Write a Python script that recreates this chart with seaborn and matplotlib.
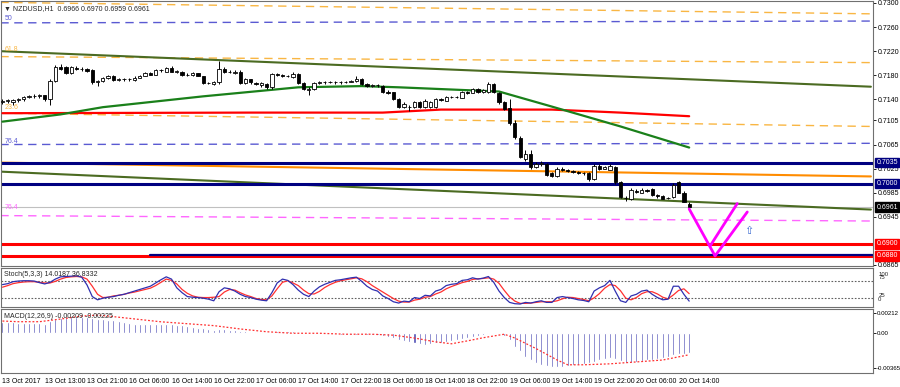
import numpy as np
import pandas as pd
import matplotlib
matplotlib.use("Agg")
import matplotlib.pyplot as plt
import seaborn as sns

# NZDUSD H1 candles, 13 Oct 05:00 .. 20 Oct 15:00
opens = [0.7135, 0.7137, 0.7136, 0.7139, 0.7140, 0.7144, 0.7145, 0.7146, 0.7147, 0.7140,
         0.7171, 0.7193, 0.7194, 0.7184, 0.7192, 0.7191, 0.7190, 0.7189, 0.7168, 0.7170,
         0.7175, 0.7178, 0.7172, 0.7173, 0.7173, 0.7172, 0.7176, 0.7179, 0.7184, 0.7181,
         0.7189, 0.7186, 0.7192, 0.7186, 0.7186, 0.7180, 0.7180, 0.7183, 0.7178, 0.7167,
         0.7166, 0.7168, 0.7190, 0.7185, 0.7183, 0.7186, 0.7167, 0.7173, 0.7167, 0.7163,
         0.7166, 0.7160, 0.7182, 0.7180, 0.7179, 0.7177, 0.7182, 0.7167, 0.7155, 0.7158,
         0.7167, 0.7168, 0.7168, 0.7169, 0.7168, 0.7168, 0.7169, 0.7170, 0.7174, 0.7166,
         0.7162, 0.7163, 0.7162, 0.7153, 0.7152, 0.7141, 0.7128, 0.7128, 0.7127, 0.7135,
         0.7127, 0.7128, 0.7127, 0.7140, 0.7138, 0.7144, 0.7144, 0.7143, 0.7152, 0.7151,
         0.7157, 0.7152, 0.7152, 0.7165, 0.7150, 0.7135, 0.7126, 0.7100, 0.7076, 0.7041,
         0.7050, 0.7028, 0.7033, 0.7032, 0.7017, 0.7013, 0.7024, 0.7023, 0.7021, 0.7020,
         0.7018, 0.7018, 0.7008, 0.7030, 0.7025, 0.7023, 0.7028, 0.7003, 0.6977, 0.6975,
         0.6988, 0.6985, 0.6989, 0.6991, 0.6981, 0.6980, 0.6976, 0.6978, 0.7002, 0.6985,
         0.6966]
highs = [0.7140, 0.7141, 0.7141, 0.7143, 0.7146, 0.7148, 0.7149, 0.7149, 0.7148, 0.7173,
         0.7197, 0.7198, 0.7196, 0.7195, 0.7195, 0.7193, 0.7192, 0.7191, 0.7172, 0.7177,
         0.7180, 0.7180, 0.7175, 0.7175, 0.7175, 0.7178, 0.7181, 0.7186, 0.7186, 0.7191,
         0.7190, 0.7194, 0.7195, 0.7189, 0.7187, 0.7183, 0.7185, 0.7184, 0.7179, 0.7169,
         0.7171, 0.7204, 0.7193, 0.7188, 0.7188, 0.7188, 0.7175, 0.7174, 0.7168, 0.7169,
         0.7167, 0.7184, 0.7184, 0.7182, 0.7181, 0.7185, 0.7183, 0.7169, 0.7160, 0.7169,
         0.7170, 0.7170, 0.7171, 0.7170, 0.7170, 0.7171, 0.7172, 0.7179, 0.7175, 0.7167,
         0.7165, 0.7165, 0.7163, 0.7155, 0.7153, 0.7143, 0.7135, 0.7130, 0.7138, 0.7138,
         0.7140, 0.7138, 0.7142, 0.7142, 0.7146, 0.7146, 0.7146, 0.7154, 0.7154, 0.7159,
         0.7159, 0.7157, 0.7169, 0.7167, 0.7152, 0.7137, 0.7140, 0.7106, 0.7079, 0.7056,
         0.7056, 0.7036, 0.7037, 0.7034, 0.7020, 0.7027, 0.7027, 0.7025, 0.7023, 0.7021,
         0.7020, 0.7019, 0.7033, 0.7032, 0.7029, 0.7032, 0.7030, 0.7005, 0.6980, 0.6992,
         0.6991, 0.6992, 0.6991, 0.6993, 0.6983, 0.6981, 0.6978, 0.7001, 0.7004, 0.6987,
         0.6970]
lows = [0.7132, 0.7134, 0.7130, 0.7136, 0.7138, 0.7142, 0.7143, 0.7143, 0.7138, 0.7131,
        0.7169, 0.7189, 0.7182, 0.7182, 0.7189, 0.7187, 0.7185, 0.7166, 0.7162, 0.7168,
        0.7174, 0.7171, 0.7170, 0.7170, 0.7171, 0.7171, 0.7175, 0.7178, 0.7180, 0.7180,
        0.7186, 0.7185, 0.7185, 0.7184, 0.7179, 0.7179, 0.7179, 0.7178, 0.7165, 0.7165,
        0.7164, 0.7166, 0.7184, 0.7184, 0.7182, 0.7165, 0.7165, 0.7166, 0.7163, 0.7161,
        0.7158, 0.7158, 0.7178, 0.7177, 0.7177, 0.7176, 0.7166, 0.7155, 0.7148, 0.7156,
        0.7166, 0.7166, 0.7167, 0.7166, 0.7166, 0.7167, 0.7168, 0.7169, 0.7164, 0.7160,
        0.7161, 0.7161, 0.7151, 0.7149, 0.7139, 0.7126, 0.7126, 0.7121, 0.7125, 0.7126,
        0.7125, 0.7126, 0.7125, 0.7137, 0.7137, 0.7142, 0.7142, 0.7142, 0.7149, 0.7150,
        0.7151, 0.7151, 0.7150, 0.7151, 0.7133, 0.7122, 0.7097, 0.7074, 0.7042, 0.7038,
        0.7025, 0.7026, 0.7029, 0.7013, 0.7011, 0.7011, 0.7021, 0.7019, 0.7018, 0.7016,
        0.7015, 0.7005, 0.7006, 0.7022, 0.7024, 0.7022, 0.7000, 0.6976, 0.6972, 0.6973,
        0.6984, 0.6984, 0.6986, 0.6980, 0.6977, 0.6974, 0.6974, 0.6976, 0.6984, 0.6969,
        0.6959]
closes = [0.7137, 0.7139, 0.7139, 0.7140, 0.7144, 0.7145, 0.7146, 0.7147, 0.7140, 0.7171,
          0.7193, 0.7191, 0.7184, 0.7193, 0.7191, 0.7190, 0.7187, 0.7168, 0.7170, 0.7175,
          0.7178, 0.7172, 0.7173, 0.7173, 0.7173, 0.7176, 0.7179, 0.7184, 0.7181, 0.7189,
          0.7188, 0.7192, 0.7186, 0.7187, 0.7180, 0.7181, 0.7183, 0.7179, 0.7167, 0.7167,
          0.7169, 0.7190, 0.7185, 0.7186, 0.7186, 0.7167, 0.7173, 0.7168, 0.7166, 0.7167,
          0.7160, 0.7182, 0.7180, 0.7179, 0.7179, 0.7182, 0.7167, 0.7157, 0.7158, 0.7167,
          0.7168, 0.7168, 0.7169, 0.7168, 0.7168, 0.7169, 0.7170, 0.7174, 0.7165, 0.7162,
          0.7163, 0.7163, 0.7153, 0.7151, 0.7141, 0.7128, 0.7133, 0.7127, 0.7136, 0.7128,
          0.7138, 0.7136, 0.7140, 0.7139, 0.7144, 0.7144, 0.7144, 0.7152, 0.7151, 0.7157,
          0.7152, 0.7155, 0.7165, 0.7152, 0.7135, 0.7124, 0.7100, 0.7077, 0.7045, 0.7050,
          0.7028, 0.7033, 0.7035, 0.7015, 0.7013, 0.7025, 0.7023, 0.7021, 0.7020, 0.7018,
          0.7017, 0.7007, 0.7030, 0.7024, 0.7027, 0.7030, 0.7002, 0.6978, 0.6976, 0.6990,
          0.6986, 0.6990, 0.6988, 0.6982, 0.6979, 0.6975, 0.6976, 0.6998, 0.6985, 0.6970,
          0.6961]

# moving averages (bar index, price)
ma_green_bar = [0, 11, 19, 38, 56, 68, 75, 94, 104, 117, 130]
ma_green = [0.7103, 0.7115, 0.7127, 0.7145, 0.7160, 0.7162, 0.7160, 0.7153, 0.7128, 0.7095, 0.7060]
ma_red_bar = [0, 47, 72, 83, 104, 117, 130]
ma_red = [0.7117, 0.7118, 0.7118, 0.7123, 0.7123, 0.7118, 0.7112]

# drawn objects: sloped channel and fibo-style levels (left end, right end)
line_ends_bar = [-0.4, 164.4]
olive_top = [0.7220, 0.7161]
olive_bottom = [0.7020, 0.6957]
orange_solid = [0.7035, 0.7012]
orange_dash = [[0.7301, 0.7282], [0.7211, 0.7201], [0.7117, 0.7095]]
blue_dash = [[0.7267, 0.7270], [0.7065, 0.7067]]
pink_dash = [0.6947, 0.6938]
fib_labels = ["50", "61.8", "23.6", "76.4", "76.4"]
fib_label_price = [0.7275, 0.7223, 0.7127, 0.7070, 0.6960]

navy_levels = [0.7035, 0.7000, 0.6881]
red_levels = [0.6900, 0.6880]
last_price = 0.6961

# magenta projection drawn after the last bar
v_bar = [130, 134.9, 141]
v_price = [0.6958, 0.6880, 0.6953]
v2_bar = [134, 139.1]
v2_price = [0.6897, 0.6967]

# stochastic (5,3,3)
stoch_main = [65, 68, 74, 76, 77, 77, 76, 71, 67, 72, 82, 89, 90, 91, 92, 88, 64, 28, 18, 23,
              26, 28, 32, 35, 40, 45, 50, 55, 60, 70, 80, 89, 82, 55, 40, 28, 26, 25, 23, 20,
              15, 43, 55, 52, 45, 35, 28, 25, 20, 17, 15, 40, 70, 82, 78, 65, 48, 35, 28, 45,
              58, 66, 72, 78, 80, 83, 86, 88, 75, 60, 50, 45, 30, 22, 12, 8, 14, 12, 25, 22,
              32, 30, 45, 50, 62, 66, 68, 78, 80, 86, 82, 85, 90, 72, 45, 25, 10, 6, 5, 10,
              8, 12, 15, 10, 10, 25, 28, 25, 22, 18, 16, 12, 45, 55, 62, 78, 45, 15, 10, 30,
              35, 45, 48, 35, 25, 18, 20, 60, 60, 35, 14]
stoch_signal = [57, 62, 68, 71, 73, 74, 74, 72, 70, 70, 75, 82, 87, 89, 90, 89, 82, 60, 35, 25,
                26, 30, 32, 35, 39, 42, 46, 50, 54, 62, 72, 82, 78, 67, 50, 38, 30, 26, 25, 25,
                26, 28, 42, 50, 48, 40, 33, 28, 22, 19, 18, 30, 52, 72, 77, 70, 62, 48, 37, 36,
                44, 56, 65, 72, 77, 80, 83, 86, 83, 74, 62, 52, 42, 32, 22, 14, 11, 11, 17, 20,
                26, 28, 36, 42, 52, 59, 65, 71, 75, 81, 83, 84, 86, 82, 69, 47, 27, 14, 7, 7,
                8, 10, 12, 12, 12, 15, 21, 26, 25, 22, 19, 15, 24, 37, 54, 65, 62, 46, 23, 18,
                25, 37, 43, 43, 36, 26, 21, 33, 47, 52, 37]

# MACD (12,26,9)
macd_hist = [0.0012, 0.0012, 0.0012, 0.0011, 0.0011, 0.0011, 0.0011, 0.0011, 0.0010, 0.0013,
             0.0015, 0.0016, 0.0017, 0.0017, 0.0017, 0.0017, 0.0017, 0.0016, 0.0015, 0.0015,
             0.0014, 0.0014, 0.0013, 0.0012, 0.0011, 0.0010, 0.0010, 0.0010, 0.0010, 0.0010,
             0.0010, 0.0010, 0.0010, 0.0009, 0.0009, 0.0008, 0.0007, 0.0006, 0.0005, 0.0004,
             0.0003, 0.0004, 0.0004, 0.0003, 0.0003, 0.0002, 0.0002, 0.0001, 0.0001, 0.0001,
             0.00005, 0.0001, 0.0002, 0.0002, 0.0002, 0.0002, 0.0001, 0.00005, -0.0001, -0.0001,
             -0.0001, -0.0001, -0.0001, -0.0001, -0.00015, -0.00015, -0.0002, -0.0002, -0.0002, -0.0002,
             -0.0002, -0.0002, -0.0003, -0.0004, -0.0005, -0.0007, -0.0008, -0.0009, -0.0010, -0.0011,
             -0.0012, -0.0011, -0.0010, -0.0010, -0.0009, -0.0008, -0.0007, -0.0006, -0.0005, -0.0004,
             -0.0003, -0.0002, -0.0001, -0.0001, -0.0001, -0.0003, -0.0007, -0.0014, -0.0019, -0.0025,
             -0.0028, -0.0031, -0.0033, -0.0034, -0.0035, -0.0035, -0.0035, -0.0034, -0.0033, -0.0033,
             -0.0032, -0.0031, -0.0030, -0.0028, -0.0027, -0.0026, -0.0027, -0.0029, -0.0031, -0.0031,
             -0.0030, -0.0029, -0.0028, -0.0028, -0.0027, -0.0026, -0.0025, -0.0023, -0.0022, -0.0022,
             -0.00209]
macd_signal_bar = [0, 3, 7, 11, 15, 18, 20, 25, 30, 35, 40, 45, 50, 55, 60, 65, 70, 74, 78,
                   82, 85, 88, 91, 95, 97, 101, 105, 107, 110, 115, 120, 125, 130]
macd_signal = [0.00128, 0.00121, 0.00121, 0.00149, 0.0018, 0.0019, 0.0018, 0.0015, 0.0012,
               0.0010, 0.0008, 0.00045, 0.00016, 0.0, 0.0, -0.0001, -0.0001, -0.0002, -0.0005,
               -0.0009, -0.0011, -0.0008, -0.00047, -0.0001, -0.0005, -0.0016, -0.0028, -0.0033,
               -0.0033, -0.0032, -0.0030, -0.0028, -0.00225]

price_ticks = [0.7300, 0.7260, 0.7220, 0.7180, 0.7140, 0.7105, 0.7065, 0.7025, 0.6985, 0.6945, 0.6865]
date_labels = ["13 Oct 2017", "13 Oct 13:00", "13 Oct 21:00", "16 Oct 06:00", "16 Oct 14:00",
               "16 Oct 22:00", "17 Oct 06:00", "17 Oct 14:00", "17 Oct 22:00", "18 Oct 06:00",
               "18 Oct 14:00", "18 Oct 22:00", "19 Oct 06:00", "19 Oct 14:00", "19 Oct 22:00",
               "20 Oct 06:00", "20 Oct 14:00"]

sns.set_style("white")
plt.rcParams["font.family"] = ["Liberation Sans", "DejaVu Sans"]
plt.rcParams["axes.linewidth"] = 0.8
plt.rcParams["axes.unicode_minus"] = False

W, H = 900, 387
fig = plt.figure(figsize=(W / 100, H / 100), dpi=100)


def panel(top, bottom, left=1, right=873):
    return [left / W, 1 - bottom / H, (right - left) / W, (bottom - top) / H]


ax = fig.add_axes(panel(1, 266))
ax_st = fig.add_axes(panel(268, 307), sharex=ax)
ax_m = fig.add_axes(panel(309, 373), sharex=ax)

for a in (ax, ax_st, ax_m):
    for s in a.spines.values():
        s.set_color("#707070")
    a.tick_params(axis="both", which="both", length=2.5, width=0.6, pad=1.2,
                  labelsize=5, colors="black")
    a.yaxis.tick_right()

bars = pd.DataFrame({"o": opens, "h": highs, "l": lows, "c": closes})
bars["i"] = np.arange(len(bars))
n = len(bars)

# ---- main price window ----
ax.set_xlim(-0.28, 164.8)
ax.set_ylim(0.68633, 0.73033)

ax.axhline(last_price, color="#c0c0c0", lw=0.8, zorder=1)
for lv in orange_dash:
    ax.plot(line_ends_bar, lv, color="#f9b643", lw=1.0, dashes=(6, 4), zorder=1)
for lv in blue_dash:
    ax.plot(line_ends_bar, lv, color="#5a5ad2", lw=1.0, dashes=(6, 4), zorder=1)
ax.plot(line_ends_bar, pink_dash, color="#ff66ff", lw=1.0, dashes=(6, 4), zorder=1)
ax.plot(line_ends_bar, olive_top, color="#4b6b22", lw=1.5, zorder=2)
ax.plot(line_ends_bar, olive_bottom, color="#4b6b22", lw=1.5, zorder=2)
ax.plot(line_ends_bar, orange_solid, color="#ff8c00", lw=1.5, zorder=2)
for lv in navy_levels[:2]:
    ax.axhline(lv, color="#000080", lw=2.2, zorder=2)
for lv in red_levels:
    ax.axhline(lv, color="#ff0000", lw=2.2, zorder=2)
ax.plot([28, 164.8], [navy_levels[2]] * 2, color="#000080", lw=1.6, zorder=2)

sns.lineplot(x=ma_red_bar, y=ma_red, ax=ax, color="#ff0000", lw=1.6, zorder=3)
sns.lineplot(x=ma_green_bar, y=ma_green, ax=ax, color="#1a801a", lw=1.6, zorder=3)

up = bars.c >= bars.o
ax.vlines(bars.i, bars.l, bars.h, color="black", lw=0.7, zorder=4)
body = (bars.c - bars.o).abs().clip(lower=0.00004)
ax.bar(bars.i, body, bottom=np.minimum(bars.o, bars.c), width=0.62,
       color=np.where(up, "white", "black"), edgecolor="black", linewidth=0.6, zorder=5)

ax.plot(v_bar, v_price, color="#ff00ff", lw=2.0, zorder=6)
ax.plot(v2_bar, v2_price, color="#ff00ff", lw=2.0, zorder=6)
ax.text(141.2, 0.6922, "\u21e7", color="#3a6ad0", fontsize=8, ha="center", va="center",
        family="DejaVu Sans")

lab_cols = ["#5a5ad2", "#f9b643", "#f9b643", "#5a5ad2", "#ff66ff"]
for txt, p, c in zip(fib_labels, fib_label_price, lab_cols):
    ax.text(0.4, p, txt, color=c, fontsize=5, ha="left", va="center", zorder=8)

ax.set_yticks(price_ticks)
ax.set_yticklabels([f"{p:.4f}" for p in price_ticks])
ax.tick_params(axis="x", bottom=False, labelbottom=False)

yt = ax.get_yaxis_transform()
boxes = [(0.7035, "#000080", "white"), (0.7000, "#000080", "white"),
         (last_price, "black", "white"), (0.6900, "#ff0000", "white"), (0.6880, "#ff0000", "white")]
for p, fc, tc in boxes:
    ax.text(1.004, p, f"{p:.4f}", transform=yt, fontsize=5, color=tc, ha="left", va="center",
            bbox=dict(boxstyle="square,pad=0.18", fc=fc, ec=fc), clip_on=False)

ax.text(0.004, 0.985, "\u25bc NZDUSD,H1  0.6966 0.6970 0.6959 0.6961", transform=ax.transAxes,
        fontsize=5, ha="left", va="top", family=["Liberation Sans", "DejaVu Sans"], zorder=8)

# ---- stochastic window ----
ax_st.set_ylim(-4.2, 116.3)
for lv in (75, 25):
    ax_st.axhline(lv, color="#606060", lw=0.8, ls=(0, (1.5, 1.5)))
sns.lineplot(x=bars.i, y=stoch_signal, ax=ax_st, color="#ff3030", lw=0.9)
sns.lineplot(x=bars.i, y=stoch_main, ax=ax_st, color="#3030b0", lw=0.9)
ax_st.set_yticks([])
ax_st.tick_params(axis="x", bottom=False, labelbottom=False)
st_t = ax_st.get_yaxis_transform()
for v, txt in [(97, "100"), (86, "75"), (30, "25"), (20, "0")]:
    ax_st.text(1.006, v, txt, transform=st_t, fontsize=4.3, ha="left", va="center", clip_on=False)
ax_st.text(0.004, 0.93, "Stoch(5,3,3) 14.0187 36.8332", transform=ax_st.transAxes,
           fontsize=5, ha="left", va="top", zorder=8)

# ---- MACD window ----
ax_m.set_ylim(-0.00416, 0.00254)
ax_m.bar(bars.i, macd_hist, width=0.38, color="#4c4cb4", zorder=2)
ax_m.plot(macd_signal_bar, macd_signal, color="#ff3030", lw=0.9, ls=(0, (1.5, 1.5)), zorder=3)
ax_m.set_yticks([0.00212, 0.0, -0.00365])
ax_m.set_yticklabels(["0.00212", "0.00", "-0.00365"])
ax_m.tick_params(axis="y", labelsize=4.4, pad=1, length=2)
ax_m.text(0.004, 0.93, "MACD(12,26,9) -0.00209 -0.00225", transform=ax_m.transAxes,
          fontsize=5, ha="left", va="top", zorder=8)
ax_m.set_xticks(np.arange(0, n, 8))
ax_m.set_xticklabels(date_labels, ha="left")
for a in (ax, ax_st, ax_m):
    a.set_xlabel("")
    a.set_ylabel("")

fig.savefig("out.png", dpi=100, facecolor="white")
